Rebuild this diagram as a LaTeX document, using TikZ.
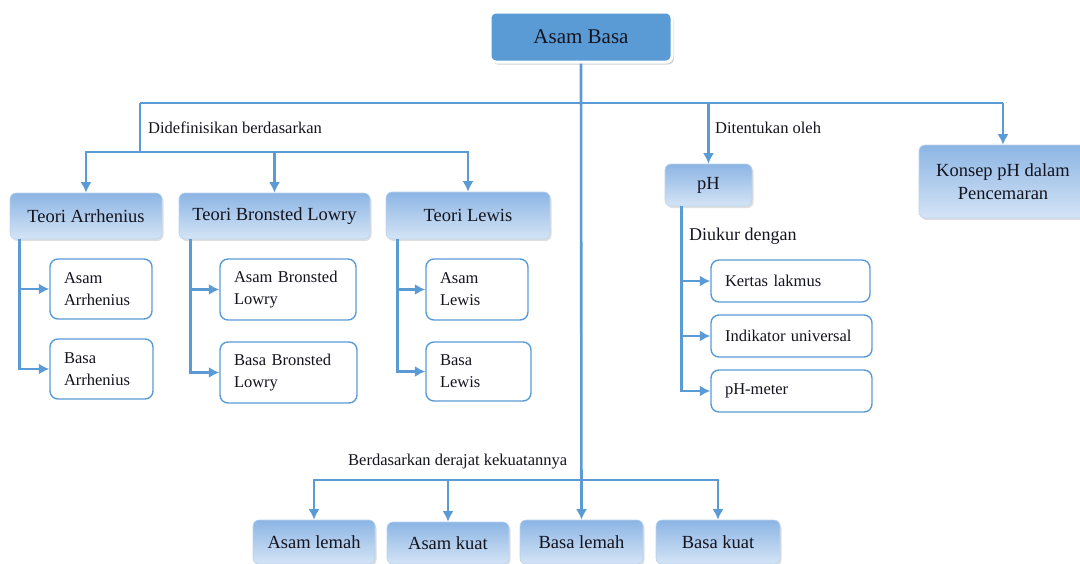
\documentclass[tikz,border=0pt]{standalone}
\usepackage{fontspec}
\setmainfont{Liberation Serif}
\usetikzlibrary{arrows.meta,shadows}
\definecolor{lb}{RGB}{91,155,213}
\definecolor{gtop}{RGB}{140,181,228}
\definecolor{gbot}{RGB}{212,228,246}
\definecolor{txt}{RGB}{20,20,30}
\begin{document}
\begin{tikzpicture}[x=1pt,y=-1pt,
  conn/.style={draw=lb,line width=2.6pt},
  arr/.style={conn,-{Latex[length=10.5pt,width=11pt]}},
  mainbox/.style={rounded corners=6pt,fill=lb,draw=white,line width=3pt,
    drop shadow={opacity=0.35,shadow xshift=2pt,shadow yshift=-2.5pt},
    font=\fontsize{21}{25}\selectfont,text=txt,inner sep=0pt},
  gradbox/.style={rounded corners=6pt,top color=gtop,bottom color=gbot,draw=gtop!60!white,line width=0.6pt,
    drop shadow={opacity=0.25,shadow xshift=1.5pt,shadow yshift=-2pt},
    font=\fontsize{18.5}{22}\selectfont,text=txt,inner sep=0pt,align=center},
  bigbox/.style={gradbox,font=\fontsize{18.5}{22.5}\selectfont},
  childbox/.style={rounded corners=8pt,fill=white,draw=lb,line width=1.4pt,
    font=\fontsize{16.5}{22}\selectfont,text=txt,inner xsep=14pt,inner ysep=0pt,align=left},
  lbl/.style={font=\fontsize{16.5}{20}\selectfont,text=txt,anchor=west,inner sep=0pt}
]
\useasboundingbox (0,0) rectangle (1080,563);

% top node
\node[mainbox,minimum width=182pt,minimum height=50pt] (ab) at (581,37) {Asam Basa};

% theory boxes
\node[gradbox,minimum width=152pt,minimum height=46pt] (ta) at (86,216) {Teori Arrhenius};
\node[gradbox,minimum width=191pt,minimum height=46pt] (tb) at (274.5,216) {Teori Bronsted Lowry};
\node[gradbox,minimum width=164pt,minimum height=47pt] (tl) at (468,215.5) {Teori Lewis};
\node[bigbox,minimum width=87pt,minimum height=42pt] (ph) at (708.5,185) {pH};
\node[bigbox,minimum width=168pt,minimum height=73pt] (kp) at (1003,181.5) {Konsep pH dalam\\Pencemaran};

% bottom boxes
\node[bigbox,minimum width=122pt,minimum height=44pt] (al) at (314,542) {Asam lemah};
\node[bigbox,minimum width=122pt,minimum height=42pt] (ak) at (448,543) {Asam kuat};
\node[bigbox,minimum width=123pt,minimum height=44pt] (bl) at (581.5,542) {Basa lemah};
\node[bigbox,minimum width=124pt,minimum height=44pt] (bk) at (718,542) {Basa kuat};

% child boxes
\node[childbox,text width=74pt,minimum height=60pt] (aa) at (101,289) {Asam\\Arrhenius};
\node[childbox,text width=75pt,minimum height=60pt] (ba) at (101.5,369) {Basa\\Arrhenius};
\node[childbox,text width=108pt,minimum height=61pt] (abl) at (288,289.5) {Asam Bronsted\\Lowry};
\node[childbox,text width=109pt,minimum height=61pt] (bbl) at (288.5,372.5) {Basa Bronsted\\Lowry};
\node[childbox,text width=74pt,minimum height=61pt] (ale) at (477,289.5) {Asam\\Lewis};
\node[childbox,text width=77pt,minimum height=59pt] (ble) at (478.5,371.5) {Basa\\Lewis};
\node[childbox,text width=131pt,minimum height=42pt] (kl) at (790.5,281) {Kertas lakmus};
\node[childbox,text width=133pt,minimum height=42pt] (iu) at (791.5,336) {Indikator universal};
\node[childbox,text width=133pt,minimum height=42pt] (pm) at (791.5,391) {pH-meter};

% labels
\node[lbl] (l1) at (148,128) {Didefinisikan berdasarkan};
\node[lbl] (l2) at (715,128) {Ditentukan oleh};
\node[lbl,font=\fontsize{18}{22}\selectfont] (l3) at (689,236) {Diukur dengan};
\node[lbl] (l4) at (348,462) {Berdasarkan derajat kekuatannya};

% connectors
\coordinate (hl) at (140,103);
\coordinate (hr) at (1003,103);
\coordinate (bar) at (140,152);
\coordinate (bb) at (581.5,480);
\coordinate (hp) at (708.5,103);

\draw[conn] (hl) -- (hr);
\draw[conn] (hl) -- (bar);
\draw[arr] (bar) -| (ta.north);
\draw[arr] (bar) -| (tb.north);
\draw[arr] (bar) -| (tl.north);
\draw[arr] (hp) -- (ph.north);
\draw[arr] (hr) -- (kp.north);
\draw[arr] (ab.south) -- (bl.north);
\draw[arr] (bb) -| (al.north);
\draw[arr] (bb) -| (ak.north);
\draw[arr] (bb) -| (bk.north);

\draw[arr] ([xshift=10pt]ta.south west) |- (aa.west);
\draw[arr] ([xshift=10pt]ta.south west) |- (ba.west);
\draw[arr] ([xshift=12pt]tb.south west) |- (abl.west);
\draw[arr] ([xshift=12pt]tb.south west) |- (bbl.west);
\draw[arr] ([xshift=12pt]tl.south west) |- (ale.west);
\draw[arr] ([xshift=12pt]tl.south west) |- (ble.west);
\draw[arr] ([xshift=17pt]ph.south west) |- (kl.west);
\draw[arr] ([xshift=17pt]ph.south west) |- (iu.west);
\draw[arr] ([xshift=17pt]ph.south west) |- (pm.west);
\end{tikzpicture}
\end{document}
